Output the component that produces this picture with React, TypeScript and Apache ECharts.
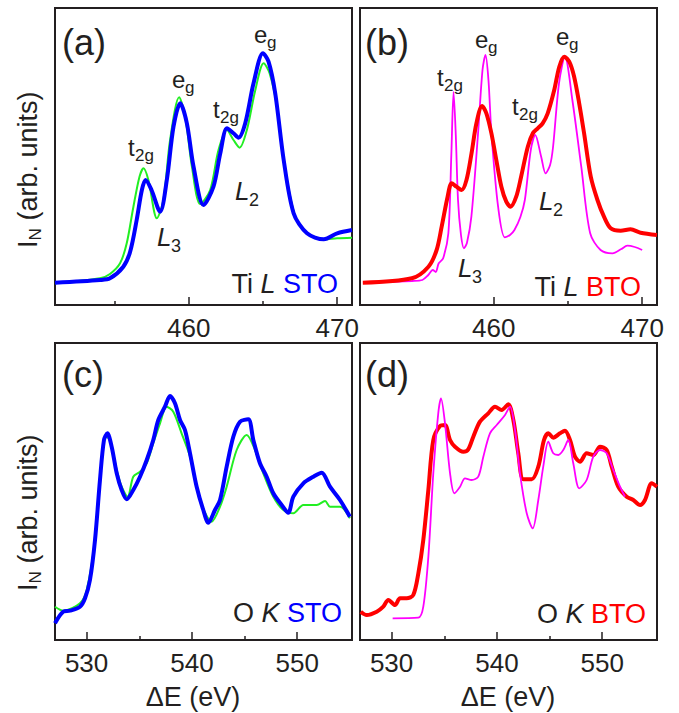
import React, { useEffect, useRef } from "react";
import * as echarts from "echarts";

// ---------- tick values ----------
const tiMajorTicks = [460, 470];
const tiMinorTicks = [455, 465];
const oMajorTicks = [530, 540, 550];
const oMinorTicks = [535, 545];

// ---------- (a) Ti L edge, STO ----------
const tiL_STO_blue = [
  [451.0, 22.3], [454.03, 25], [454.7, 26.7], [455.6, 38.3], [456.06, 53.3], [456.5, 85], [456.85, 115],
  [457.1, 125], [457.5, 115], [458.08, 93.3], [458.53, 125], [458.98, 178.3], [459.43, 201.7], [459.88, 181.7],
  [460.33, 138.3], [461.0, 100], [461.67, 118.3], [462.13, 151.7], [462.58, 176.7], [463.02, 171.7],
  [463.36, 167.3], [463.81, 181.7], [464.37, 221.7], [465.0, 251.7], [465.38, 243.3], [465.83, 211.7],
  [466.4, 145], [467.07, 91.7], [467.97, 71.7], [469.1, 65.7], [470.0, 71.7], [471.0, 75],
];
const tiL_STO_green = [
  [451.0, 21.7], [454.03, 26.7], [454.7, 31], [455.38, 41.7], [455.83, 61.7], [456.28, 98.3], [456.69, 128.3],
  [456.96, 136.7], [457.29, 125], [457.86, 86.7], [458.3, 105], [458.75, 165], [459.36, 207.7], [459.77, 188.3],
  [460.22, 138.3], [460.78, 101], [461.45, 115], [462.01, 155], [462.58, 175], [463.02, 165], [463.43, 157.3],
  [463.92, 175], [464.49, 215], [465.05, 241.7], [465.45, 231.7], [465.95, 198.3], [466.51, 135], [467.18, 88.3],
  [467.97, 71.7], [469.1, 65.7], [470.0, 66.7], [471.0, 67.3],
];

// ---------- (b) Ti L edge, BTO ----------
const tiL_BTO_red = [
  [451.19, 22.3], [454.49, 26.7], [455.61, 38.3], [456.16, 55], [456.5, 78.3], [456.9, 108.3], [457.17, 121.7],
  [457.5, 118.3], [457.84, 115], [458.17, 125], [458.51, 151.7], [458.84, 181.7], [459.22, 199], [459.51, 191.7],
  [459.85, 171.7], [460.18, 145], [460.52, 118.3], [460.85, 103.3], [461.14, 98.3], [461.52, 108.3],
  [461.85, 128.3], [462.3, 158.3], [462.64, 171.7], [462.97, 176.7], [463.3, 181.7], [463.64, 191.7],
  [464.08, 215], [464.42, 238.3], [464.75, 248.3], [465.09, 243.3], [465.42, 228.3], [465.76, 201.7],
  [466.09, 171.7], [466.54, 128.3], [466.99, 105], [467.43, 88.3], [467.88, 76.7], [468.55, 74.3],
  [469.22, 75.7], [469.89, 72.3], [471.0, 70],
];
const tiL_BTO_magenta = [
  [451.2, 22], [454.5, 24], [455.2, 25], [455.6, 30], [455.9, 35], [456.1, 33], [456.3, 41.7], [456.6, 46.7],
  [456.95, 71.7], [457.15, 150], [457.3, 213], [457.45, 170], [457.6, 105], [457.8, 70], [458.0, 56.7],
  [458.2, 62], [458.5, 88.3], [458.95, 171.7], [459.25, 235], [459.45, 250], [459.65, 225], [459.85, 171.7],
  [460.3, 98.3], [460.75, 67.7], [461.1, 70], [461.4, 75], [461.8, 88], [462.1, 105], [462.5, 155],
  [462.8, 170], [463.2, 148.3], [463.5, 131.7], [463.8, 140], [464.0, 158], [464.4, 221.7], [464.8, 248.3],
  [465.3, 205], [465.9, 138.3], [466.5, 71.7], [467.2, 55], [468.0, 51.7], [468.6, 56], [469.0, 59.3],
  [469.5, 58], [470.0, 55],
];

// ---------- (c) O K edge, STO ----------
const oK_STO_blue = [
  [527.0, 16.7], [527.79, 28.3], [528.42, 29.3], [529.37, 33.3], [529.85, 41.7], [530.32, 60], [530.8, 100],
  [531.27, 160], [531.65, 200], [531.97, 206.7], [532.38, 193.3], [532.86, 166.7], [533.33, 150],
  [533.81, 140.7], [534.43, 150], [535.07, 163.3], [535.71, 180], [536.33, 200], [536.81, 220], [537.44, 233.3],
  [537.92, 244], [538.39, 236.7], [538.87, 220], [539.34, 210], [539.82, 186.7], [540.45, 153.3], [541.08, 130],
  [541.56, 117.3], [542.19, 130], [542.67, 140], [543.3, 173.3], [543.93, 203.3], [544.57, 218.3],
  [545.35, 220.7], [545.83, 200], [546.46, 176.7], [547.1, 163.3], [547.73, 146.7], [548.52, 135],
  [549.15, 127.3], [549.63, 143.3], [550.58, 156.7], [551.53, 163.3], [552.32, 167.3], [553.11, 153.3],
  [554.06, 140], [555.0, 123.3],
];
const oK_STO_green = [
  [527.0, 33.3], [527.79, 29.3], [529.37, 36.7], [530.01, 50], [530.8, 100], [531.27, 160], [531.84, 203.3],
  [532.22, 200], [532.86, 170], [533.33, 153.3], [533.9, 143.3], [534.43, 163.3], [535.07, 168.3],
  [535.71, 176.7], [536.33, 196.7], [536.97, 216.7], [537.6, 233.3], [538.23, 228.3], [539.02, 206.7],
  [539.82, 183.3], [540.77, 140], [541.88, 118.3], [542.67, 133.3], [543.3, 153.3], [544.25, 190], [545.2, 205],
  [545.99, 190], [546.78, 166.7], [547.73, 143.3], [548.68, 130], [549.63, 126.7], [550.58, 135],
  [551.85, 135], [552.64, 139], [553.11, 133.3], [554.06, 133.3], [555.0, 121.7],
];

// ---------- (d) O K edge, BTO ----------
const oK_BTO_red = [
  [527.07, 28.3], [527.64, 25], [528.59, 28.3], [529.21, 33.3], [529.69, 40], [530.32, 35], [530.8, 41.7],
  [531.43, 41.7], [532.06, 45], [532.54, 66.7], [533.01, 100], [533.49, 150], [533.96, 200], [534.6, 214],
  [535.07, 215], [535.55, 200], [536.02, 193.3], [536.81, 188.3], [537.28, 190.7], [537.76, 203.3],
  [538.39, 218.3], [539.18, 226.7], [539.82, 233.3], [540.45, 230], [541.08, 235.7], [541.56, 220],
  [542.03, 186.7], [542.51, 160.7], [543.3, 160.7], [543.93, 173.3], [544.47, 200], [544.88, 206.7],
  [545.35, 202.3], [545.99, 206.7], [546.46, 209.3], [546.94, 200], [547.41, 183.3], [547.89, 178.3],
  [548.52, 186.7], [549.15, 185], [549.79, 193.3], [550.42, 190], [550.9, 173.3], [551.52, 153.3],
  [552.32, 143.3], [552.95, 140], [553.59, 135], [554.06, 140], [554.7, 156.7], [555.2, 153.3],
];
const oK_BTO_magenta = [
  [530.1, 21.7], [532.54, 22.3], [533.01, 33.3], [533.49, 83.3], [533.96, 166.7], [534.43, 226.7],
  [534.69, 241.7], [535.07, 216.7], [535.55, 166.7], [535.96, 146.7], [536.5, 153.3], [536.97, 161.7],
  [537.6, 160], [538.23, 163.3], [538.71, 183.3], [539.34, 206.7], [539.98, 215], [540.77, 225],
  [541.24, 233.3], [541.72, 210], [542.19, 166.7], [542.83, 126.7], [543.4, 111.7], [543.93, 140],
  [544.4, 173.3], [544.88, 198.3], [545.35, 186.7], [545.83, 185], [546.3, 190], [546.78, 200],
  [547.25, 176.7], [547.82, 151.7], [548.52, 160], [549.15, 183.3], [549.79, 190], [550.42, 186.7],
  [551.05, 170], [551.69, 153.3], [552.16, 143.3],
];

const FONT = '"Liberation Sans", Arial, Helvetica, sans-serif';
const INK = "#231f20";
const BLUE = "#0000ff";
const GREEN = "#22ee22";
const RED = "#ff0000";
const MAGENTA = "#ff00ff";

function txt(x: number, y: number, text: string, fontSize: number, extra: any = {}) {
  return {
    type: "text",
    x,
    y,
    z: 50,
    style: {
      text,
      fontSize,
      lineHeight: fontSize,
      fontFamily: FONT,
      fill: INK,
      align: "left",
      verticalAlign: "top",
      ...extra,
    },
  };
}

// main symbol + lowered subscript, as a group
function peak(x: number, y: number, main: string, sub: string, italic = false) {
  const fs = italic ? 26 : 24;
  const ss = italic ? 18 : 17;
  const w = main === "t" ? 7 : main === "e" ? 13 : 14;
  const dy = italic ? 13 : 12;
  return {
    type: "group",
    x,
    y,
    children: [
      txt(0, 0, main, fs, { fontStyle: italic ? "italic" : "normal" }),
      txt(w, dy, sub, ss),
    ],
  };
}

function tag(x: number, y: number, edge: string, letter: string, sample: string, color: string) {
  return {
    type: "text",
    x,
    y,
    z: 50,
    style: {
      text: `{n|${edge} }{i|${letter}}{n| }{c|${sample}}`,
      align: "right",
      verticalAlign: "bottom",
      rich: {
        n: { fontSize: 27, fontFamily: FONT, fill: INK },
        i: { fontSize: 27, fontFamily: FONT, fill: INK, fontStyle: "italic" },
        c: { fontSize: 27, fontFamily: FONT, fill: color },
      },
    },
  };
}

function panelLabel(x: number, y: number, t: string) {
  return txt(x, y, t, 36);
}

// rotated y-axis title: start point (x, yBottom) is the bottom end of the text
function yLabel(x: number, yBottom: number) {
  return {
    type: "group",
    x,
    y: yBottom,
    rotation: Math.PI / 2,
    children: [
      txt(0, 0, "I", 27),
      txt(7.5, 13, "N", 17),
      txt(20, 0, " (arb. units)", 27),
    ],
  };
}

function xName(x: number, y: number) {
  return {
    type: "text",
    x,
    y,
    z: 50,
    style: { text: "ΔE (eV)", fontSize: 27, fontFamily: FONT, fill: INK, align: "center", verticalAlign: "middle" },
  };
}

export default function App() {
  const ref = useRef<HTMLDivElement>(null);

  useEffect(() => {
    if (!ref.current) return;
    const chart = echarts.init(ref.current, undefined, { renderer: "svg" });

    const grids = [
      { left: 55, top: 8, width: 297, height: 297 },
      { left: 360, top: 8, width: 297, height: 297 },
      { left: 55, top: 343, width: 297, height: 297 },
      { left: 360, top: 343, width: 297, height: 297 },
    ].map((g) => ({ ...g, show: true, borderColor: INK, borderWidth: 2, backgroundColor: "transparent" }));

    const ranges = [
      { min: 451, max: 471, major: tiMajorTicks, minor: tiMinorTicks },
      { min: 451, max: 471, major: tiMajorTicks, minor: tiMinorTicks },
      { min: 527, max: 555.2, major: oMajorTicks, minor: oMinorTicks },
      { min: 527, max: 555.2, major: oMajorTicks, minor: oMinorTicks },
    ];

    const xAxis: any[] = [];
    ranges.forEach((r, gi) => {
      xAxis.push({
        type: "value",
        gridIndex: gi,
        min: r.min,
        max: r.max,
        position: "bottom",
        axisLine: { show: false },
        splitLine: { show: false },
        axisTick: { show: true, inside: true, length: 8, customValues: r.major, lineStyle: { color: INK, width: 1.5 } },
        axisLabel: { show: true, customValues: r.major, margin: 10, fontSize: 26, color: INK, fontFamily: FONT },
      });
      xAxis.push({
        type: "value",
        gridIndex: gi,
        min: r.min,
        max: r.max,
        position: "bottom",
        axisLine: { show: false },
        splitLine: { show: false },
        axisTick: { show: true, inside: true, length: 4, customValues: r.minor, lineStyle: { color: INK, width: 1.5 } },
        axisLabel: { show: false },
      });
    });

    const yAxis = [0, 1, 2, 3].map((gi) => ({ type: "value", gridIndex: gi, min: 0, max: 297, show: false }));

    const line = (gi: number, data: number[][], color: string, width: number, z: number) => ({
      type: "line",
      xAxisIndex: gi * 2,
      yAxisIndex: gi,
      data,
      showSymbol: false,
      symbol: "none",
      smooth: 0.3,
      z,
      lineStyle: { color, width },
      itemStyle: { color },
    });

    const series = [
      line(0, tiL_STO_green, GREEN, 2, 2),
      line(0, tiL_STO_blue, BLUE, 4, 3),
      line(1, tiL_BTO_magenta, MAGENTA, 1.8, 2),
      line(1, tiL_BTO_red, RED, 4, 3),
      line(2, oK_STO_green, GREEN, 2, 2),
      line(2, oK_STO_blue, BLUE, 4, 3),
      line(3, oK_BTO_red, RED, 4, 2),
      line(3, oK_BTO_magenta, MAGENTA, 1.8, 3),
    ];

    const graphic = [
      panelLabel(62, 24, "(a)"),
      panelLabel(365, 24, "(b)"),
      panelLabel(62, 356, "(c)"),
      panelLabel(365, 356, "(d)"),
      // (a)
      peak(128, 135, "t", "2g"),
      peak(172, 67, "e", "g"),
      peak(213, 97, "t", "2g"),
      peak(254, 22, "e", "g"),
      peak(157, 224, "L", "3", true),
      peak(235, 178, "L", "2", true),
      tag(338, 297, "Ti", "L", "STO", BLUE),
      // (b)
      peak(437, 65, "t", "2g"),
      peak(475, 27, "e", "g"),
      peak(512, 94, "t", "2g"),
      peak(556, 24, "e", "g"),
      peak(458, 255, "L", "3", true),
      peak(539, 188, "L", "2", true),
      tag(641, 300, "Ti", "L", "BTO", RED),
      // (c), (d)
      tag(342, 626, "O", "K", "STO", BLUE),
      tag(646, 627, "O", "K", "BTO", RED),
      yLabel(14, 248),
      yLabel(14, 591),
      xName(193, 697),
      xName(508, 697),
    ];

    chart.setOption({
      animation: false,
      backgroundColor: "#ffffff",
      grid: grids,
      xAxis,
      yAxis,
      series,
      graphic,
    });

    return () => chart.dispose();
  }, []);

  return <div ref={ref} style={{ position: "fixed", left: 0, top: 0, width: 679, height: 713 }} />;
}
